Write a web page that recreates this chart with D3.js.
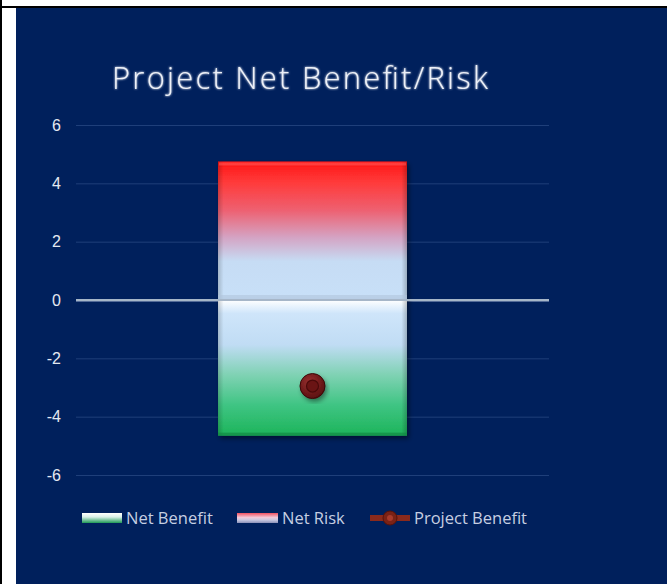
<!DOCTYPE html>
<html><head><meta charset="utf-8">
<script src="https://cdn.jsdelivr.net/npm/d3@7"></script>
<style>html,body{margin:0;padding:0;background:#fff;}svg{display:block;}</style>
</head><body>
<script>
const categories = ["Project"];
const netBenefit = [-4.65];
const netRisk = [4.75];
const projectBenefit = [-2.95];
const yTicks = [-6, -4, -2, 0, 2, 4, 6];
const legendLabels = ["Net Benefit", "Net Risk", "Project Benefit"];
const titleText = "Project Net Benefit/Risk";

const W = 667, H = 584;
const svg = d3.select("body").append("svg").attr("width", W).attr("height", H);
const defs = svg.append("defs");

// frame
svg.append("rect").attr("width", W).attr("height", H).attr("fill", "#fff");
svg.append("rect").attr("x", 16).attr("y", 8).attr("width", W - 16).attr("height", H - 8).attr("fill", "#00205c");
svg.append("line").attr("x1", 1).attr("x2", 1).attr("y1", 0).attr("y2", H).attr("stroke", "#000").attr("stroke-width", 2);
svg.append("line").attr("x1", 0).attr("x2", W).attr("y1", 7).attr("y2", 7).attr("stroke", "#000").attr("stroke-width", 2);

// gradients
function grad(id, stops, x2, y2) {
  const g = defs.append("linearGradient").attr("id", id).attr("x1", 0).attr("y1", 0).attr("x2", x2 || 0).attr("y2", y2 === undefined ? 1 : y2);
  stops.forEach(s => g.append("stop").attr("offset", s[0]).attr("stop-color", s[1]).attr("stop-opacity", s[2] === undefined ? 1 : s[2]));
}
grad("riskG", [[0, "#ff1616"], [0.15, "#ff3a3a"], [0.35, "#ee6070"], [0.55, "#d4a4c4"], [0.72, "#c6dcf4"], [1, "#c8e0f8"]]);
grad("benG", [[0, "#ffffff"], [0.05, "#e6f2fd"], [0.1, "#cfe5fa"], [0.33, "#c0dcf4"], [0.55, "#80d2b4"], [0.78, "#3ec482"], [1, "#1db45a"]]);
grad("edgeG", [[0, "#000", 0.18], [0.03, "#000", 0], [0.97, "#000", 0], [1, "#000", 0.22]], 1, 0);
grad("legBen", [[0, "#ffffff"], [0.4, "#d8f0e8"], [1, "#1f9a55"]]);
grad("legRisk", [[0, "#f25060"], [0.45, "#f2c8d8"], [0.7, "#c8c8e0"], [1, "#8a90b8"]]);
const f = defs.append("filter").attr("id", "shadow").attr("x", "-20%").attr("y", "-20%").attr("width", "140%").attr("height", "140%");
f.append("feDropShadow").attr("dx", 2).attr("dy", 3).attr("stdDeviation", 2.5).attr("flood-color", "#000").attr("flood-opacity", 0.45);
const gl = defs.append("filter").attr("id", "glow");
gl.append("feGaussianBlur").attr("stdDeviation", 1.2).attr("result", "b");
const m = gl.append("feMerge"); m.append("feMergeNode").attr("in", "b"); m.append("feMergeNode").attr("in", "SourceGraphic");
const rg = defs.append("radialGradient").attr("id", "dotG").attr("cx", "40%").attr("cy", "35%").attr("r", "65%");
rg.append("stop").attr("offset", 0).attr("stop-color", "#9a3030");
rg.append("stop").attr("offset", 1).attr("stop-color", "#5a1010");

// scales
const y = d3.scaleLinear().domain([-6, 6]).range([475, 125]);
const x = d3.scaleBand().domain(categories).range([76, 549]).padding(0.429);

// title
svg.append("text").attr("x", 112).attr("y", 89).text(titleText)
  .attr("font-family", "'Open Sans', 'Noto Sans', sans-serif").attr("font-weight", 300)
  .attr("font-size", 31).attr("textLength", 376).attr("lengthAdjust", "spacing")
  .attr("fill", "#eef1f8").attr("filter", "url(#glow)");

// grid + axis
const axis = d3.axisLeft(y).tickValues(yTicks).tickSize(-(549 - 76)).tickFormat(d => String(d));
const ga = svg.append("g").attr("transform", "translate(76,0)").call(axis);
ga.select(".domain").remove();
ga.selectAll(".tick line").attr("stroke", d => d === 0 ? "#a6b6d4" : "#1f3f7a").attr("stroke-width", d => d === 0 ? 2 : 1);
ga.selectAll(".tick text").attr("x", -15).attr("font-family", "'Liberation Sans', Arial, sans-serif").attr("font-size", 16).attr("fill", "#e4e8f0");

// bars
const bars = svg.append("g");
categories.forEach((c, i) => {
  const x0 = x(c), bw = x.bandwidth();
  // risk
  bars.append("rect").attr("x", x0).attr("y", y(netRisk[i])).attr("width", bw).attr("height", y(0) - y(netRisk[i]))
    .attr("fill", "url(#riskG)").attr("filter", "url(#shadow)");
  bars.append("rect").attr("x", x0).attr("y", y(netRisk[i])).attr("width", bw).attr("height", y(0) - y(netRisk[i]))
    .attr("fill", "url(#edgeG)");
  bars.append("rect").attr("x", x0 + 1).attr("y", y(netRisk[i]) + 1).attr("width", bw - 2).attr("height", 3).attr("fill", "#ff6060").attr("opacity", 0.5);
  // benefit
  bars.append("rect").attr("x", x0).attr("y", y(0)).attr("width", bw).attr("height", y(netBenefit[i]) - y(0))
    .attr("fill", "url(#benG)").attr("filter", "url(#shadow)");
  bars.append("rect").attr("x", x0).attr("y", y(0)).attr("width", bw).attr("height", y(netBenefit[i]) - y(0))
    .attr("fill", "url(#edgeG)");
  bars.append("rect").attr("x", x0).attr("y", y(netBenefit[i]) - 3).attr("width", bw).attr("height", 3).attr("fill", "#138a44").attr("opacity", 0.7);
  bars.append("rect").attr("x", x0).attr("y", y(0) - 5).attr("width", bw).attr("height", 5).attr("fill", "#b0c4dc").attr("opacity", 0.6);
});
// zero line over bar
svg.append("line").attr("x1", 76).attr("x2", 549).attr("y1", y(0)).attr("y2", y(0)).attr("stroke", "#a6b6c8").attr("stroke-width", 2);

// project benefit markers
categories.forEach((c, i) => {
  const cx = x(c) + x.bandwidth() / 2, cy = y(projectBenefit[i]);
  svg.append("circle").attr("cx", cx).attr("cy", cy).attr("r", 12.5).attr("fill", "url(#dotG)").attr("filter", "url(#shadow)");
  svg.append("circle").attr("cx", cx).attr("cy", cy).attr("r", 12.5).attr("fill", "none").attr("stroke", "#3a0808").attr("stroke-width", 1);
  svg.append("circle").attr("cx", cx).attr("cy", cy).attr("r", 6).attr("fill", "#6a1414").attr("stroke", "#4a0a0a").attr("stroke-width", 1.2);
});

// legend
const lg = svg.append("g").attr("font-family", "'Open Sans', 'Noto Sans', sans-serif").attr("font-size", 16.5).attr("fill", "#c6cfe2");
const ly = 518;
lg.append("rect").attr("x", 82).attr("y", ly - 5).attr("width", 40).attr("height", 10).attr("fill", "url(#legBen)");
lg.append("text").attr("x", 126).attr("y", ly + 6).text(legendLabels[0]);
lg.append("rect").attr("x", 237).attr("y", ly - 5).attr("width", 41).attr("height", 10).attr("fill", "url(#legRisk)");
lg.append("text").attr("x", 282).attr("y", ly + 6).text(legendLabels[1]);
lg.append("line").attr("x1", 370).attr("x2", 410).attr("y1", ly).attr("y2", ly).attr("stroke", "#8a2a1c").attr("stroke-width", 6);
lg.append("circle").attr("cx", 390).attr("cy", ly).attr("r", 7).attr("fill", "#7a2216").attr("stroke", "#5a1208");
lg.append("circle").attr("cx", 390).attr("cy", ly).attr("r", 3).attr("fill", "#a83a2a");
lg.append("text").attr("x", 414).attr("y", ly + 6).text(legendLabels[2]);
</script>
</body></html>
